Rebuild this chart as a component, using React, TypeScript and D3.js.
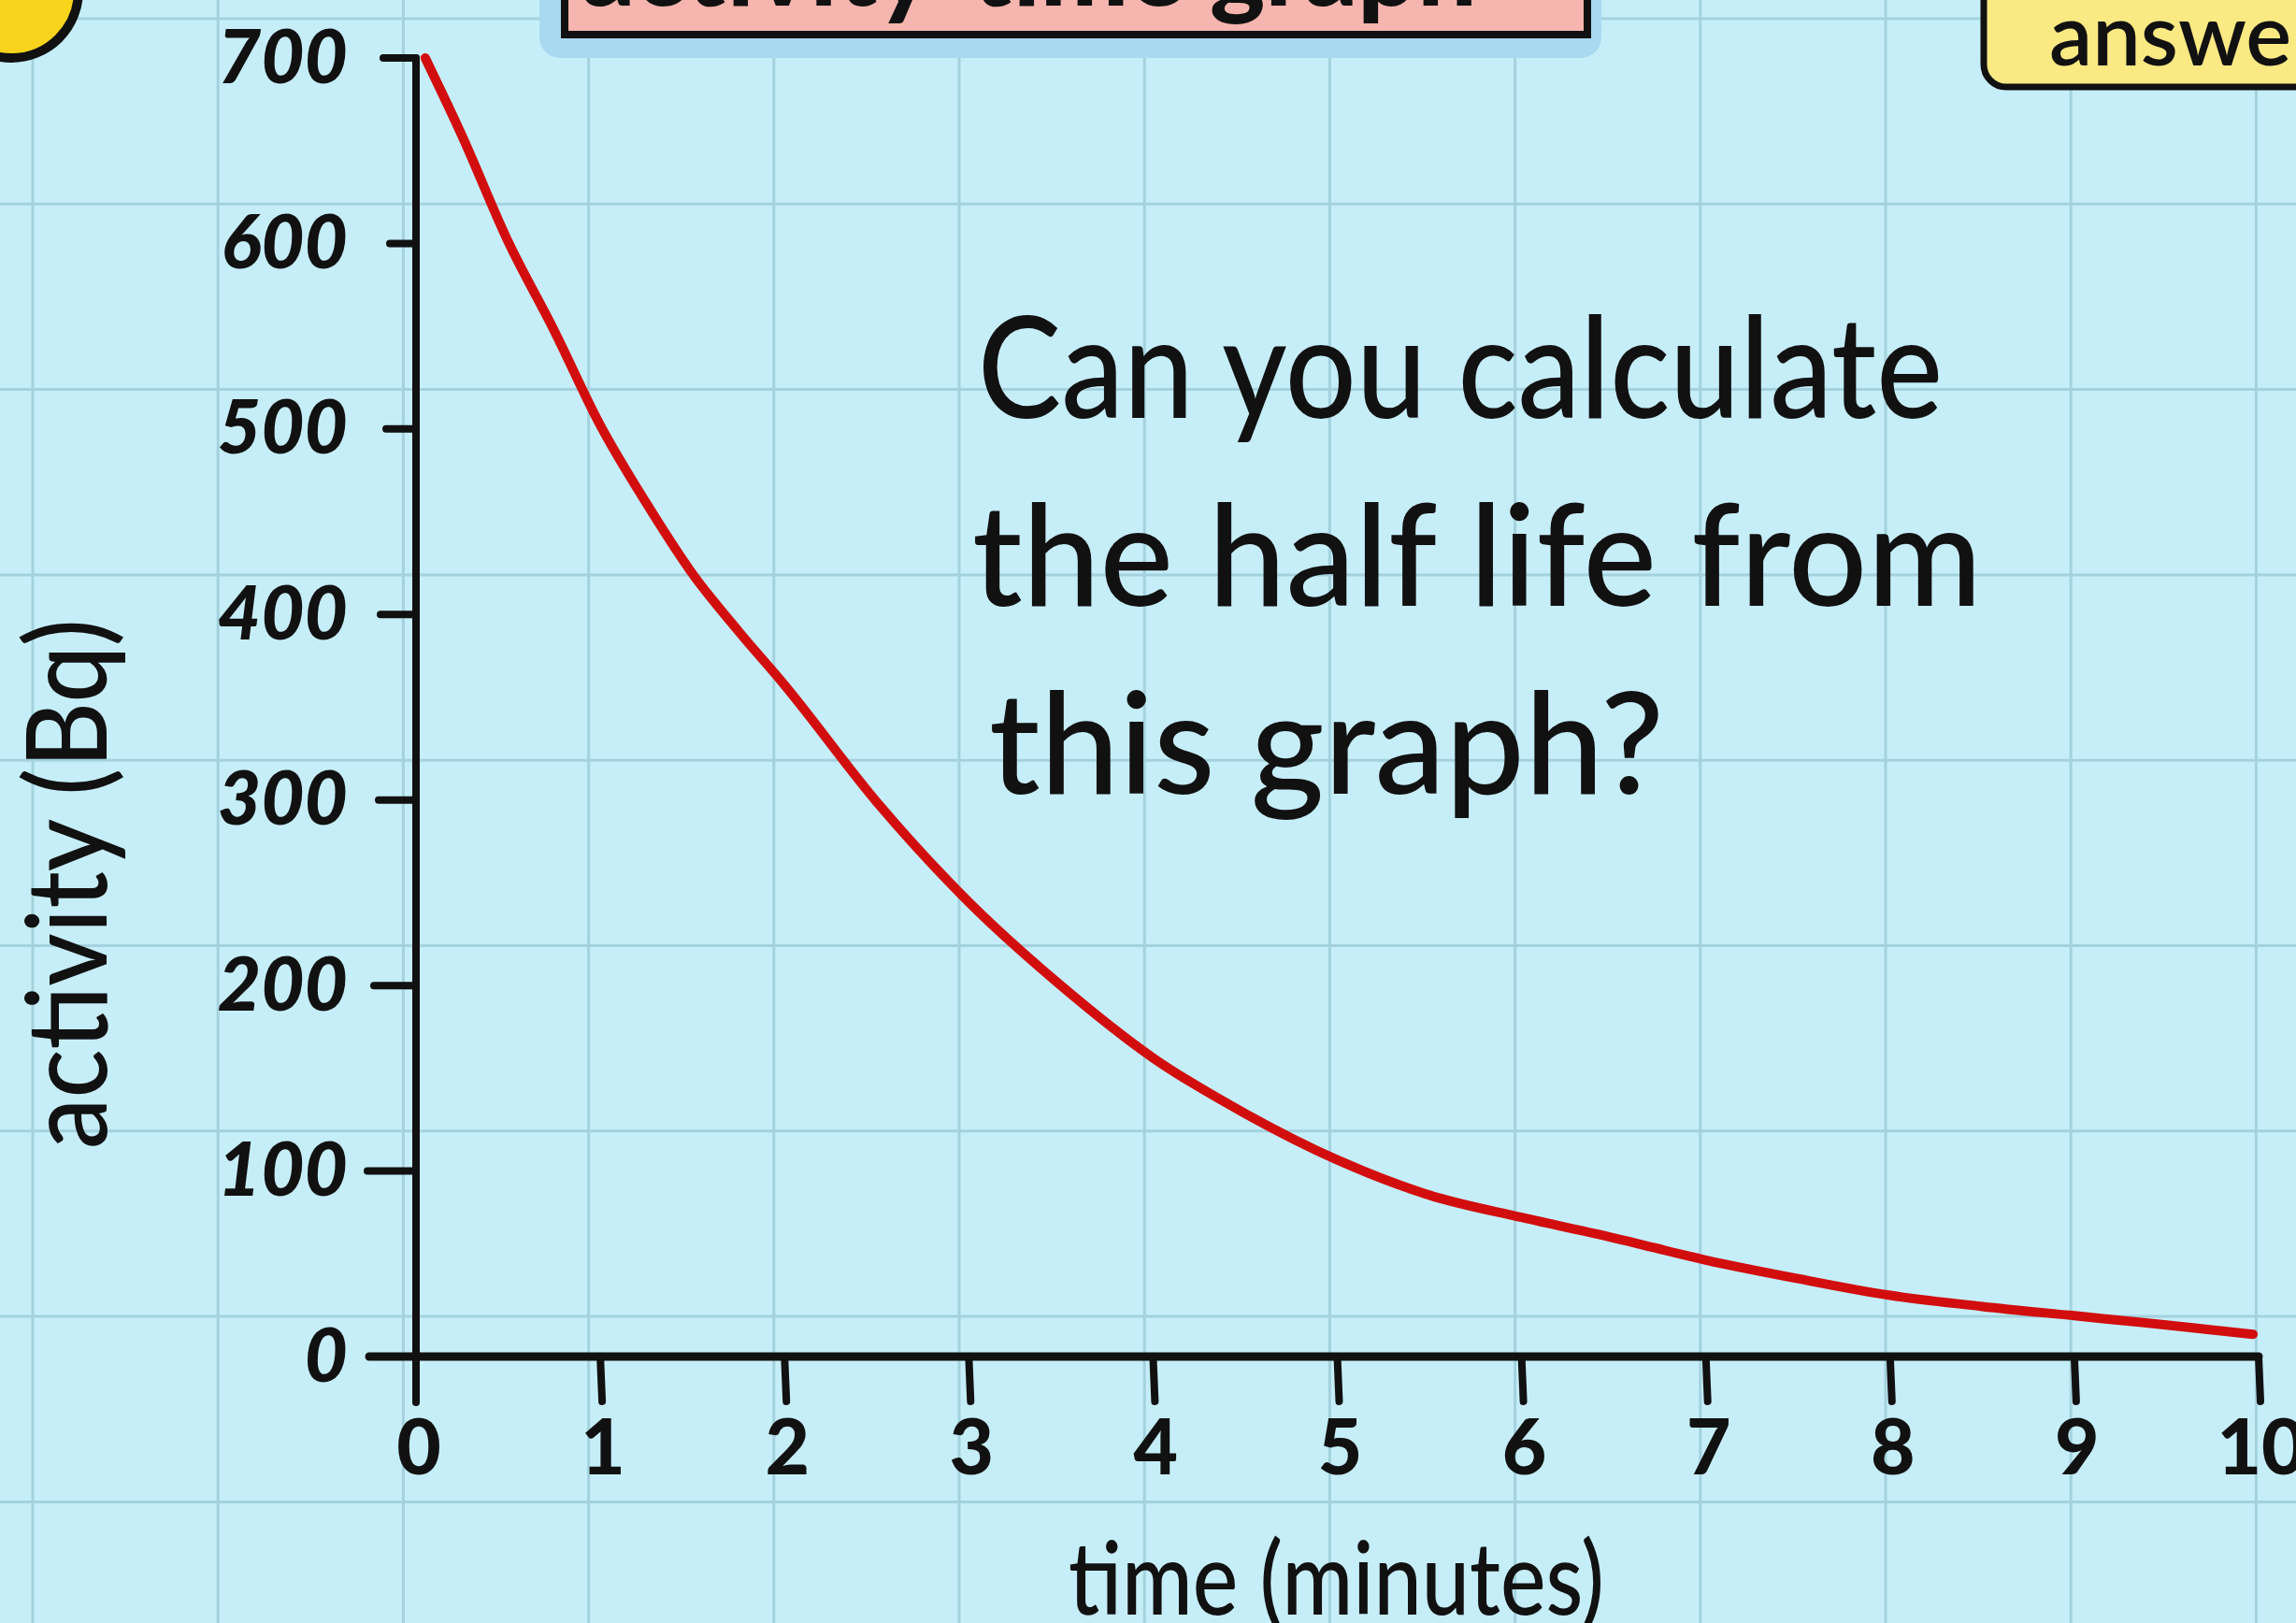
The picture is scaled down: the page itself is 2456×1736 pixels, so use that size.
import React from "react";
import * as d3 from "d3";

// ---- data ----
const timeMinutes = [0.05, 0.25, 0.5, 0.75, 1, 1.25, 1.5, 1.75, 2, 2.5, 3, 3.5, 4, 4.5, 5, 5.5, 6, 6.5, 7, 7.5, 8, 8.5, 9, 9.5, 9.97];
const activityBq = [700, 658, 601, 553, 502, 460, 422, 391, 362, 299, 245, 200, 161, 131, 106, 87, 75, 64, 52, 42, 33, 27, 22, 17, 12];
const xTicks = [0, 1, 2, 3, 4, 5, 6, 7, 8, 9, 10];
const yTicks = [0, 100, 200, 300, 400, 500, 600, 700];
const questionLines = ["Can you calculate", "the half life from", "this graph?"];
const xAxisLabel = "time (minutes)";
const yAxisLabel = "activity (Bq)";
const titleText = "activity-time graph";
const answerText = "answers";

const W = 2456;
const H = 1736;
const BG = "#c6eef9";
const GRID = "#a3d2de";
const INK = "#111111";
const RED = "#d20d0d";
const FONT = "Lato, 'Open Sans', sans-serif";

export default function App() {
  const x = d3.scaleLinear().domain([0, 10]).range([445, 2416]);
  const y = d3.scaleLinear().domain([0, 700]).range([1451, 62]);

  const pts: [number, number][] = timeMinutes.map((t, i) => [t, activityBq[i]]);
  const line = d3
    .line<[number, number]>()
    .x((d) => x(d[0]))
    .y((d) => y(d[1]))
    .curve(d3.curveMonotoneX);

  const gridX = d3.range(13).map((k) => 35 + 198.2 * k);
  const gridY = d3.range(9).map((k) => 20 + 198.3 * k);

  const tickLenY = [40, 52, 45, 40, 38, 32, 28, 35];

  return (
    <svg
      width={W}
      height={H}
      viewBox={`0 0 ${W} ${H}`}
      style={{ position: "absolute", left: 0, top: 0, display: "block" }}
    >
      <rect x={0} y={0} width={W} height={H} fill={BG} />
      {/* grid */}
      {gridX.map((gx, i) => (
        <line key={"gx" + i} x1={gx} x2={gx} y1={0} y2={H} stroke={GRID} strokeWidth={3} />
      ))}
      {gridY.map((gy, i) => (
        <line key={"gy" + i} x1={0} x2={W} y1={gy} y2={gy} stroke={GRID} strokeWidth={3} />
      ))}

      {/* top-left badge */}
      <circle cx={12} cy={-10} r={72} fill="#f8d51c" stroke={INK} strokeWidth={10} />

      {/* title box with shadow */}
      <rect x={577} y={-30} width={1136} height={92} rx={22} fill="#a9d9f0" />
      <rect x={604} y={-40} width={1094} height={77} fill="#f6b5ae" stroke={INK} strokeWidth={8} />
      <text x={622} y={6} fontFamily={FONT} fontWeight={900} fontSize={112} fill={INK}>
        {titleText}
      </text>

      {/* answer box */}
      <rect x={2122} y={-40} width={360} height={133} rx={24} fill="#fbe983" stroke={INK} strokeWidth={7} />
      <text x={2192} y={70} fontFamily={FONT} fontWeight={600} fontSize={92} fill={INK}>
        {answerText}
      </text>

      {/* axes */}
      <line x1={x(0)} x2={x(0)} y1={y(700)} y2={1500} stroke={INK} strokeWidth={8} strokeLinecap="round" />
      <line x1={395} x2={x(10)} y1={y(0)} y2={y(0)} stroke={INK} strokeWidth={9} strokeLinecap="round" />

      {/* y ticks */}
      {yTicks.map((v, i) => (
        <g key={"yt" + v}>
          <line
            x1={x(0) - tickLenY[i]}
            x2={x(0)}
            y1={y(v)}
            y2={y(v)}
            stroke={INK}
            strokeWidth={8}
            strokeLinecap="round"
          />
          <text
            x={372}
            y={y(v) + 6}
            textAnchor="end"
            dominantBaseline="middle"
            fontFamily={FONT}
            fontWeight={900}
            fontStyle="italic"
            fontSize={80}
            fill={INK}
          >
            {v}
          </text>
        </g>
      ))}

      {/* x ticks */}
      {xTicks.map((v) => (
        <g key={"xt" + v}>
          {v > 0 && (
            <line
              x1={x(v)}
              x2={x(v) + 2}
              y1={y(0)}
              y2={y(0) + 48}
              stroke={INK}
              strokeWidth={8}
              strokeLinecap="round"
            />
          )}
          <text
            x={x(v) + 3}
            y={1556}
            textAnchor="middle"
            dominantBaseline="middle"
            fontFamily={FONT}
            fontWeight={900}
            fontSize={82}
            fill={INK}
          >
            {v}
          </text>
        </g>
      ))}

      {/* decay curve */}
      <path d={line(pts) || ""} fill="none" stroke={RED} strokeWidth={10} strokeLinecap="round" strokeLinejoin="round" />

      {/* question text */}
      {questionLines.map((s, i) => (
        <text
          key={"q" + i}
          x={[1046, 1040, 1058][i]}
          y={447 + 201 * i}
          fontFamily={FONT}
          fontWeight={500}
          fontSize={150}
          fill={INK}
          textLength={[1032, 1080, 722][i]}
          lengthAdjust="spacingAndGlyphs"
        >
          {s}
        </text>
      ))}

      {/* axis labels */}
      <text
        x={1143}
        y={1727}
        fontFamily={FONT}
        fontWeight={500}
        fontSize={108}
        fill={INK}
        textLength={573}
        lengthAdjust="spacingAndGlyphs"
      >
        {xAxisLabel}
      </text>
      <text
        transform={`translate(114, 1229) rotate(-90)`}
        x={0}
        y={0}
        fontFamily={FONT}
        fontWeight={500}
        fontSize={120}
        fill={INK}
        textLength={567}
        lengthAdjust="spacingAndGlyphs"
      >
        {yAxisLabel}
      </text>
    </svg>
  );
}
